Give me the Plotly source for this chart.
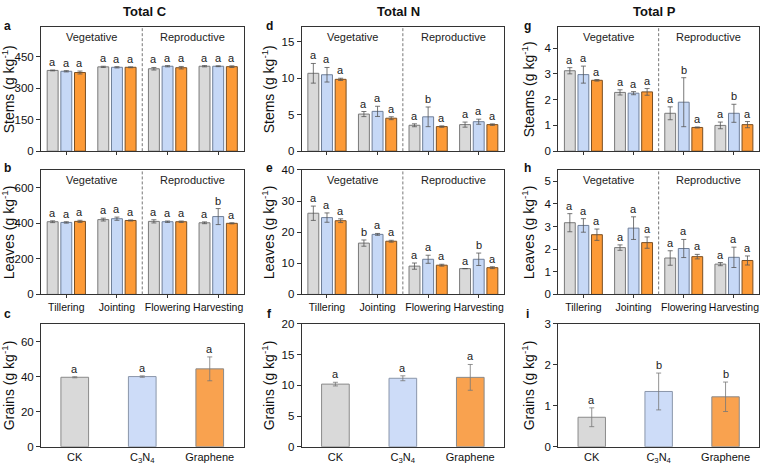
import plotly.graph_objects as go

# ---------------- data ----------------
stages = ["Tillering", "Jointing", "Flowering", "Harvesting"]
treatments = ["CK", "C<sub>3</sub>N<sub>4</sub>", "Graphene"]

# Total C
c_stems_ck = [385, 402, 393, 405]
c_stems_cn = [381, 400, 405, 405]
c_stems_gr = [375, 400, 398, 403]
c_stems_ck_err = [2, 3, 6, 3]
c_stems_cn_err = [3, 3, 3, 2]
c_stems_gr_err = [7, 2, 6, 4]
c_stems_letters = [["a", "a", "a", "a"], ["a", "a", "a", "a"], ["a", "a", "a", "a"]]

c_leaves_ck = [409, 421, 411, 403]
c_leaves_cn = [405, 426, 409, 438]
c_leaves_gr = [411, 416, 409, 400]
c_leaves_ck_err = [5, 8, 9, 5]
c_leaves_cn_err = [4, 9, 4, 45]
c_leaves_gr_err = [6, 3, 4, 3]
c_leaves_letters = [["a", "a", "a", "a"], ["a", "a", "a", "b"], ["a", "a", "a", "a"]]

c_grains = [39.6, 40.0, 44.4]
c_grains_err = [0.3, 0.4, 6.8]
c_grains_letters = ["a", "a", "a"]

# Total N
n_stems_ck = [10.7, 5.1, 3.56, 3.65]
n_stems_cn = [10.5, 5.47, 4.72, 4.05]
n_stems_gr = [9.87, 4.53, 3.38, 3.65]
n_stems_ck_err = [1.35, 0.35, 0.2, 0.35]
n_stems_cn_err = [1.0, 0.7, 1.35, 0.35]
n_stems_gr_err = [0.15, 0.2, 0.1, 0.1]
n_stems_letters = [["a", "a", "a", "a"], ["a", "a", "b", "a"], ["a", "a", "a", "a"]]

n_leaves_ck = [26.1, 16.5, 9.1, 8.3]
n_leaves_cn = [24.7, 19.3, 11.3, 11.3]
n_leaves_gr = [23.7, 17.1, 9.4, 8.6]
n_leaves_ck_err = [2.3, 1.0, 1.0, 0.0]
n_leaves_cn_err = [1.5, 0.3, 1.3, 2.0]
n_leaves_gr_err = [0.6, 0.3, 0.3, 0.3]
n_leaves_letters = [["a", "b", "a", "a"], ["a", "a", "a", "b"], ["a", "a", "a", "a"]]

n_grains = [10.2, 11.15, 11.3]
n_grains_err = [0.3, 0.4, 2.1]
n_grains_letters = ["a", "a", "a"]

# Total P
p_stems_ck = [3.12, 2.28, 1.47, 1.0]
p_stems_cn = [2.97, 2.25, 1.9, 1.47]
p_stems_gr = [2.75, 2.3, 0.92, 1.03]
p_stems_ck_err = [0.12, 0.1, 0.25, 0.13]
p_stems_cn_err = [0.33, 0.06, 0.95, 0.35]
p_stems_gr_err = [0.03, 0.13, 0.02, 0.12]
p_stems_letters = [["a", "a", "a", "a"], ["a", "a", "b", "b"], ["a", "a", "a", "a"]]

p_leaves_ck = [3.17, 2.07, 1.61, 1.34]
p_leaves_cn = [3.05, 2.93, 2.03, 1.64]
p_leaves_gr = [2.64, 2.29, 1.67, 1.5]
p_leaves_ck_err = [0.4, 0.12, 0.32, 0.07]
p_leaves_cn_err = [0.3, 0.5, 0.4, 0.45]
p_leaves_gr_err = [0.25, 0.25, 0.1, 0.2]
p_leaves_letters = [["a", "a", "a", "a"], ["a", "a", "a", "a"], ["a", "a", "a", "a"]]

p_grains = [0.72, 1.35, 1.22]
p_grains_err = [0.23, 0.45, 0.36]
p_grains_letters = ["a", "b", "b"]

# axis settings
y_ranges = [[0, 590], [0, 17], [0, 4.8],
            [0, 700], [0, 40], [0, 5.5],
            [0, 70], [0, 20], [0, 3]]
y_ticks = [[0, 150, 300, 450], [0, 5, 10, 15], [0, 1, 2, 3, 4],
           [0, 200, 400, 600], [0, 10, 20, 30, 40], [0, 1, 2, 3, 4, 5],
           [0, 20, 40, 60], [0, 5, 10, 15, 20], [0, 1, 2, 3]]
y_titles = ["Stems (g kg<sup>-1</sup>)", "Stems (g kg<sup>-1</sup>)", "Steams (g kg<sup>-1</sup>)",
            "Leaves (g kg<sup>-1</sup>)", "Leaves (g kg<sup>-1</sup>)", "Leaves (g kg<sup>-1</sup>)",
            "Grains (g kg<sup>-1</sup>)", "Grains (g kg<sup>-1</sup>)", "Grains (g kg<sup>-1</sup>)"]
col_titles = ["Total C", "Total N", "Total P"]
panel_letters = ["a", "d", "g", "b", "e", "h", "c", "f", "i"]

# ---------------- styling ----------------
FONT = "Arial, 'Liberation Sans', sans-serif"
W, H = 761, 469
fills = ["#d9d9d9", "#c6d8f6", "#fd9a36"]
fills_c = ["#d9d9d9", "#cddcf8", "#f9a24f"]
edges = ["#7a7a7a", "#6f7f99", "#7a4f24"]
edges_c = ["#8a8a8a", "#8a96aa", "#8a8a8a"]
ERRC = "#555555"
cols_px = [(41, 243.5), (301.7, 504), (558.3, 759)]
rows_px = [(22, 149), (168.3, 296), (326.3, 452.3)]
slot = 0.27

grouped = {
    0: ([c_stems_ck, c_stems_cn, c_stems_gr], [c_stems_ck_err, c_stems_cn_err, c_stems_gr_err], c_stems_letters),
    1: ([n_stems_ck, n_stems_cn, n_stems_gr], [n_stems_ck_err, n_stems_cn_err, n_stems_gr_err], n_stems_letters),
    2: ([p_stems_ck, p_stems_cn, p_stems_gr], [p_stems_ck_err, p_stems_cn_err, p_stems_gr_err], p_stems_letters),
    3: ([c_leaves_ck, c_leaves_cn, c_leaves_gr], [c_leaves_ck_err, c_leaves_cn_err, c_leaves_gr_err], c_leaves_letters),
    4: ([n_leaves_ck, n_leaves_cn, n_leaves_gr], [n_leaves_ck_err, n_leaves_cn_err, n_leaves_gr_err], n_leaves_letters),
    5: ([p_leaves_ck, p_leaves_cn, p_leaves_gr], [p_leaves_ck_err, p_leaves_cn_err, p_leaves_gr_err], p_leaves_letters),
}
grains = {
    6: (c_grains, c_grains_err, c_grains_letters),
    7: (n_grains, n_grains_err, n_grains_letters),
    8: (p_grains, p_grains_err, p_grains_letters),
}

fig = go.Figure()
annotations = []
shapes = []
layout_axes = {}

for idx in range(9):
    r, c = divmod(idx, 3)
    n = idx + 1
    xname = "x" if n == 1 else f"x{n}"
    yname = "y" if n == 1 else f"y{n}"
    xkey = "xaxis" if n == 1 else f"xaxis{n}"
    ykey = "yaxis" if n == 1 else f"yaxis{n}"
    x0, x1 = cols_px[c]
    top, bot = rows_px[r]

    if idx in grouped:
        vals, errs, letters = grouped[idx]
        xs = list(range(len(stages)))
        for i in range(3):
            fig.add_trace(go.Bar(
                x=xs, y=vals[i], xaxis=xname, yaxis=yname,
                marker=dict(color=fills[i], line=dict(color=edges[i], width=1)),
                error_y=dict(type="data", array=errs[i], color=ERRC, thickness=0.8, width=2.5),
                showlegend=False, hoverinfo="skip"))
            for k in xs:
                annotations.append(dict(
                    x=k + (i - 1) * slot, y=vals[i][k] + errs[i][k], xref=xname, yref=yname,
                    text=letters[i][k], showarrow=False, yanchor="bottom", yshift=0,
                    font=dict(size=11, family=FONT, color="#222")))
        shapes.append(dict(type="line", xref=xname, yref=f"{yname} domain",
                           x0=1.5, x1=1.5, y0=0, y1=1,
                           line=dict(color="#777", width=1, dash="3px,2px")))
        for xv, txt in [(0.5, "Vegetative"), (2.5, "Reproductive")]:
            annotations.append(dict(x=xv, y=1, xref=xname, yref=f"{yname} domain",
                                    text=txt, showarrow=False, yanchor="top", yshift=-2,
                                    font=dict(size=11, family=FONT, color="#222")))
        xaxis = dict(range=[-0.5, 3.5], tickvals=xs,
                     ticktext=(stages if r == 1 else ["", "", "", ""]),
                     ticks="outside", ticklen=3, tickcolor="#333", tickangle=0,
                     tickfont=dict(size=10.5, family=FONT, color="#111"))
    else:
        vals, errs, letters = grains[idx]
        xs = list(range(3))
        fig.add_trace(go.Bar(
            x=xs, y=vals, xaxis=xname, yaxis=yname, width=0.41,
            marker=dict(color=fills_c, line=dict(color=edges_c, width=1)),
            error_y=dict(type="data", array=errs, color="#777", thickness=0.8, width=2.5),
            showlegend=False, hoverinfo="skip"))
        for k in xs:
            annotations.append(dict(
                x=k, y=vals[k] + errs[k], xref=xname, yref=yname,
                text=letters[k], showarrow=False, yanchor="bottom",
                font=dict(size=11, family=FONT, color="#222")))
        xaxis = dict(range=[-0.5, 2.5], tickvals=xs, ticktext=treatments, ticks="",
                     tickangle=0, tickfont=dict(size=11, family=FONT, color="#111"))

    xaxis.update(domain=[x0 / W, x1 / W], anchor=yname, showline=True, mirror=True,
                 linecolor="#333", linewidth=1, showgrid=False, zeroline=False)
    yaxis = dict(domain=[1 - bot / H, 1 - top / H], anchor=xname, range=y_ranges[idx],
                 tickvals=y_ticks[idx], ticks="outside", ticklen=4, tickcolor="#333",
                 showline=True, mirror=True, linecolor="#333", linewidth=1,
                 showgrid=False, zeroline=False,
                 tickfont=dict(size=11.5, family=FONT, color="#111"))
    layout_axes[xkey] = xaxis
    layout_axes[ykey] = yaxis

    # y title
    title_x = [8, 268, 528][c]
    annotations.append(dict(x=title_x / W, y=1 - (top + bot) / 2 / H, xref="paper", yref="paper",
                            text=y_titles[idx], textangle=-90, showarrow=False,
                            xanchor="center", yanchor="middle",
                            font=dict(size=14, family=FONT, color="#111")))
    # panel letter
    lx = [7, 269, 527][c]
    ly = [21, 166, 316][r]
    annotations.append(dict(x=lx / W, y=1 - ly / H, xref="paper", yref="paper",
                            text=f"<b>{panel_letters[idx]}</b>", showarrow=False,
                            xanchor="center", yanchor="middle",
                            font=dict(size=12, family=FONT, color="#111")))

for c, t in enumerate(col_titles):
    cx = [145, 398, 654][c]
    annotations.append(dict(x=cx / W, y=1 - 6 / H, xref="paper", yref="paper",
                            text=f"<b>{t}</b>", showarrow=False,
                            xanchor="center", yanchor="middle",
                            font=dict(size=13, family=FONT, color="#111")))

fig.update_layout(
    width=W, height=H, margin=dict(l=0, r=0, t=0, b=0),
    paper_bgcolor="white", plot_bgcolor="white",
    barmode="group", bargap=0.19, bargroupgap=0.2,
    annotations=annotations, shapes=shapes, showlegend=False,
    font=dict(family=FONT),
    **layout_axes)

fig.write_html("out.html")
